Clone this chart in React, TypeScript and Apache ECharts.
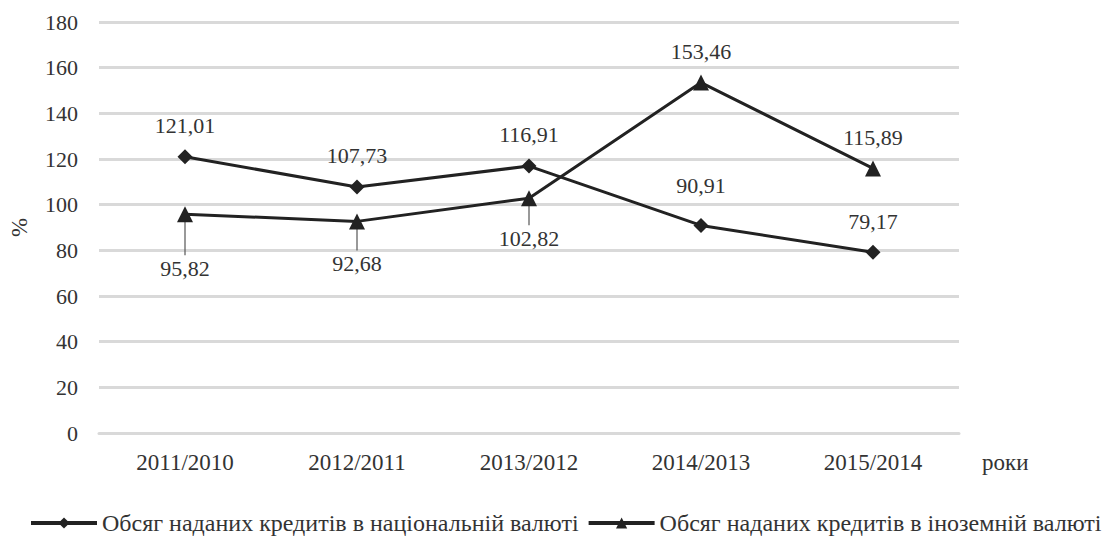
import React, { useEffect, useRef } from "react";
import * as echarts from "echarts";

const categories = ["2011/2010", "2012/2011", "2013/2012", "2014/2013", "2015/2014"];
const nationalValues = [121.01, 107.73, 116.91, 90.91, 79.17];
const foreignValues = [95.82, 92.68, 102.82, 153.46, 115.89];
const nationalLabelGap = [13, 13, 13, 21, 12];
const foreignBelow = [true, true, true, false, false];
const foreignLabelGap = [35, 23, 21, 12, 12];
const seriesNames = [
  "Обсяг наданих кредитів в національній валюті",
  "Обсяг наданих кредитів в іноземній валюті",
];
const yTicks = { min: 0, max: 180, interval: 20 };

const FONT = "Liberation Serif";
const TXT = "#333333";
const LINE = "#222222";

const fmt = (v: number) => v.toFixed(2).replace(".", ",");

export default function App() {
  const ref = useRef<HTMLDivElement>(null);
  useEffect(() => {
    if (!ref.current) return;
    const chart = echarts.init(ref.current, null, { renderer: "svg" });
    chart.setOption({
      animation: false,
      grid: { left: 93, right: 144, top: 22, bottom: 103, containLabel: false },
      legend: {
        left: 29,
        top: 511,
        padding: 0,
        itemWidth: 66,
        itemHeight: 14,
        itemGap: 8,
        lineStyle: { width: 4, color: LINE },
        textStyle: { fontFamily: FONT, fontSize: 24, color: TXT },
        data: seriesNames,
      },
      xAxis: {
        type: "category",
        data: categories,
        boundaryGap: true,
        axisLine: { show: true, lineStyle: { color: "#d9d9d9", width: 3 } },
        axisTick: { show: false },
        axisLabel: { fontFamily: FONT, fontSize: 23, color: TXT, margin: 18 },
        name: "роки",
        nameLocation: "end",
        nameGap: 23,
        nameTextStyle: {
          fontFamily: FONT,
          fontSize: 23,
          color: TXT,
          verticalAlign: "top",
          padding: [18, 0, 0, 0],
        },
      },
      yAxis: {
        type: "value",
        min: yTicks.min,
        max: yTicks.max,
        interval: yTicks.interval,
        axisLine: { show: false },
        axisTick: { show: false },
        axisLabel: { fontFamily: FONT, fontSize: 22, color: TXT, margin: 21 },
        splitLine: { lineStyle: { color: "#d9d9d9", width: 3 } },
        name: "%",
        nameLocation: "middle",
        nameRotate: 90,
        nameGap: 68,
        nameTextStyle: { fontFamily: FONT, fontSize: 23, color: TXT },
      },
      series: [
        {
          name: seriesNames[0],
          type: "line",
          data: nationalValues.map((v, i) => ({
            value: v,
            label: { position: "top", distance: nationalLabelGap[i] },
          })),
          symbol: "diamond",
          symbolSize: 15,
          lineStyle: { color: LINE, width: 3 },
          itemStyle: { color: LINE },
          label: {
            show: true,
            formatter: (p: any) => fmt(p.value),
            fontFamily: FONT,
            fontSize: 22,
            color: TXT,
          },
        },
        {
          name: seriesNames[1],
          type: "line",
          data: foreignValues.map((v, i) => ({
            value: v,
            label: {
              position: foreignBelow[i] ? "bottom" : "top",
              distance: foreignLabelGap[i],
            },
          })),
          symbol: "triangle",
          symbolSize: 16,
          lineStyle: { color: LINE, width: 3 },
          itemStyle: { color: LINE },
          label: {
            show: true,
            formatter: (p: any) => fmt(p.value),
            fontFamily: FONT,
            fontSize: 22,
            color: TXT,
          },
        },
        {
          type: "custom",
          silent: true,
          data: foreignValues.map((v, i) => [i, v, foreignBelow[i] ? foreignLabelGap[i] : 0]),
          renderItem: (params: any, api: any) => {
            const gap = api.value(2);
            if (!gap) return null;
            const pt = api.coord([api.value(0), api.value(1)]);
            return {
              type: "line",
              shape: { x1: pt[0], y1: pt[1] + 6, x2: pt[0], y2: pt[1] + gap + 6 },
              style: { stroke: "#555", lineWidth: 1.2 },
            };
          },
          z: 1,
        },
      ],
    });
    return () => chart.dispose();
  }, []);
  return (
    <div
      ref={ref}
      style={{ position: "absolute", left: 0, top: 0, width: 1103, height: 536 }}
    />
  );
}
